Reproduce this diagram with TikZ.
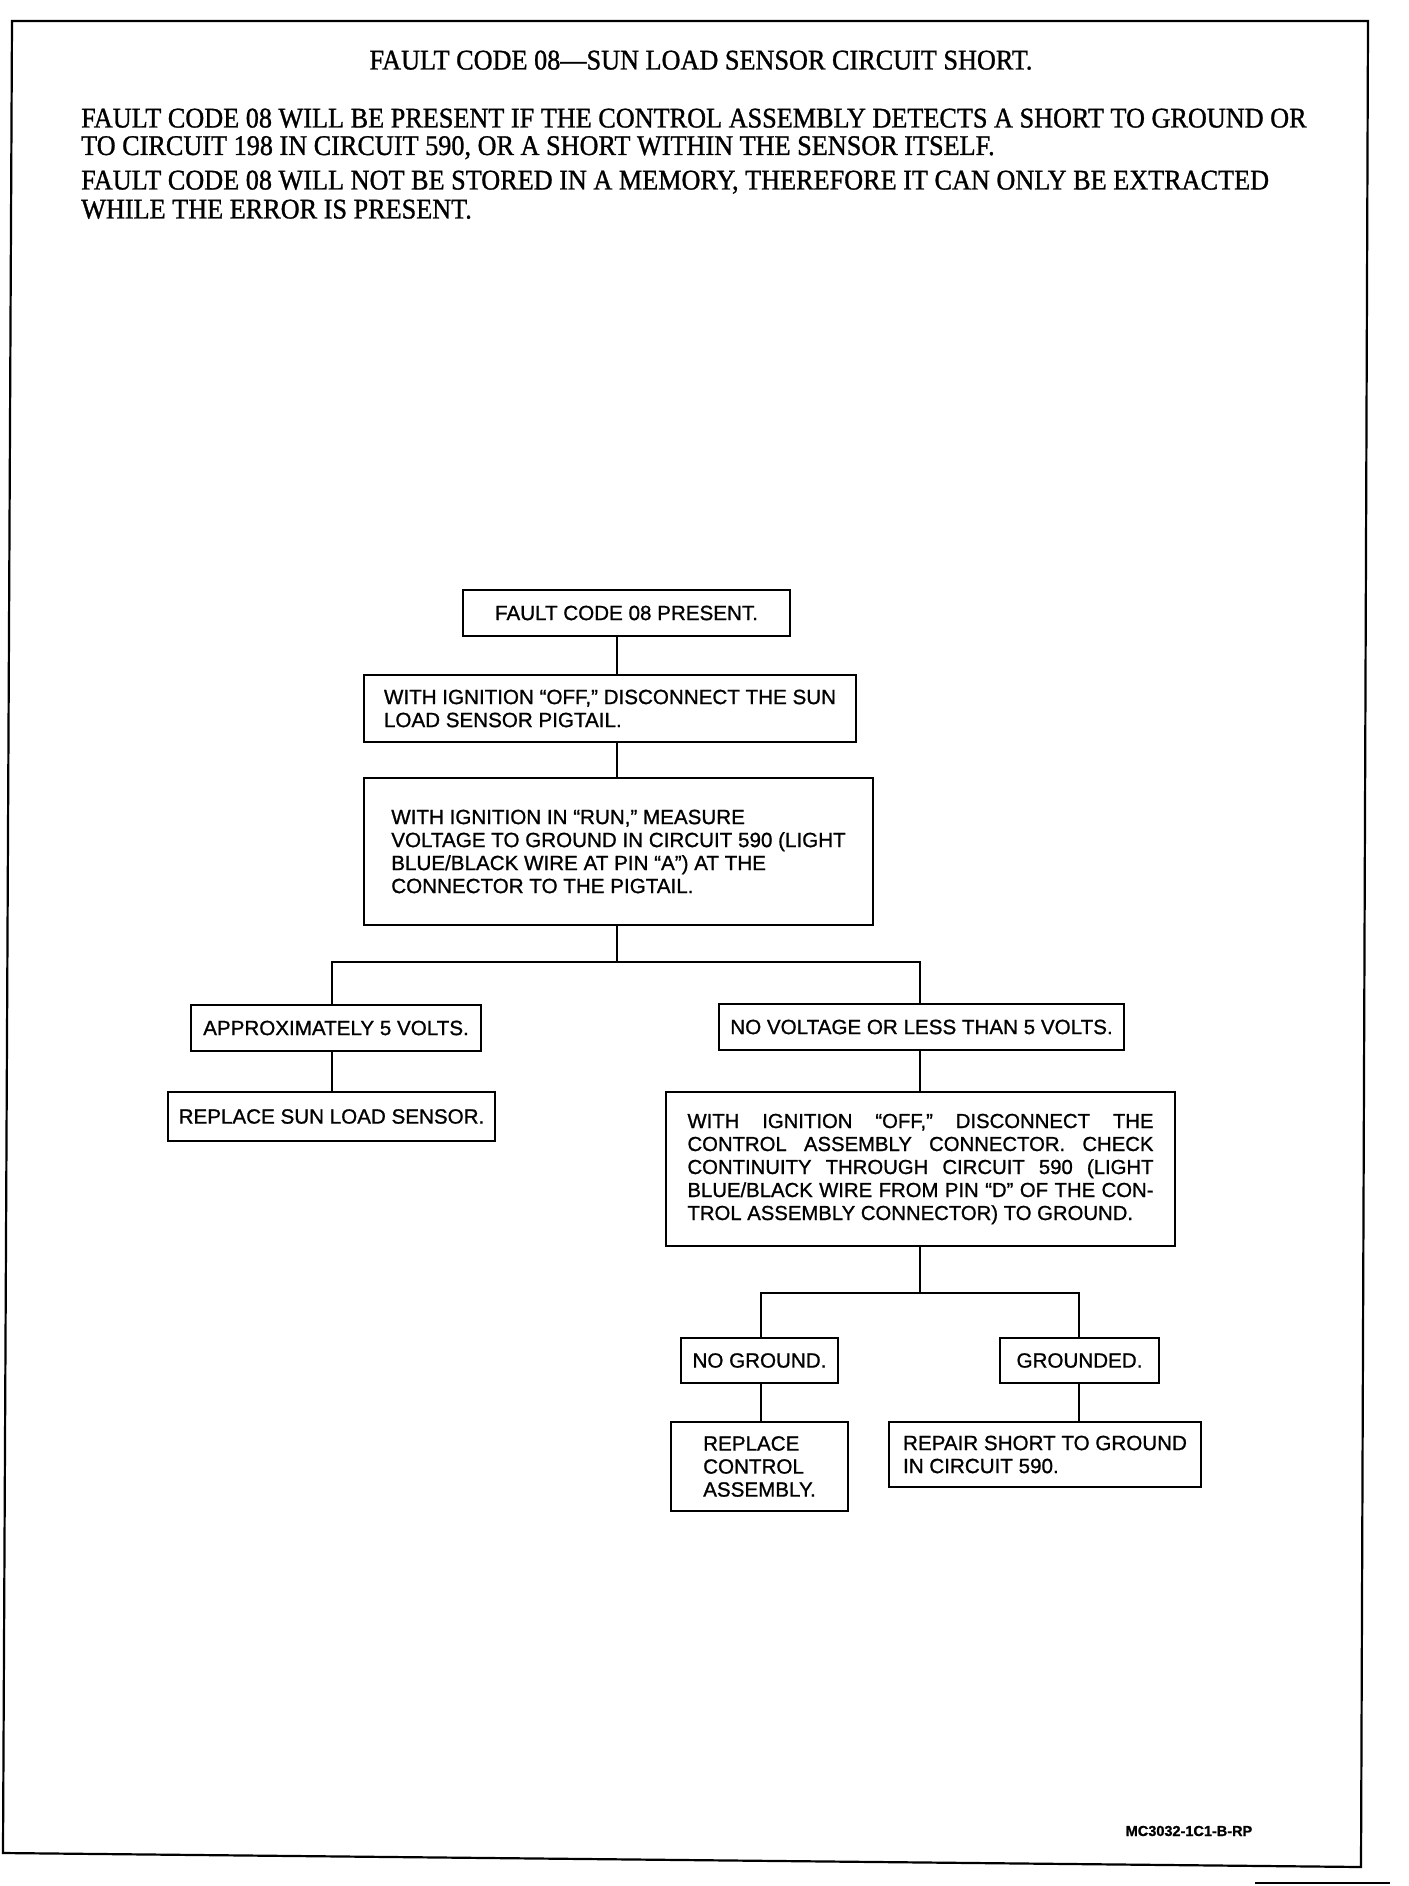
\documentclass[tikz,border=0pt]{standalone}
\usepackage{fontspec}
\setmainfont{Liberation Serif}[FakeStretch=0.92,FakeBold=1]
\newfontfamily\boxfont{Liberation Sans}[FakeBold=1]
\tikzset{
	stepbox/.style={draw,line width=1.6pt,font=\boxfont\fontsize{20.6}{23}\selectfont,align=left,inner sep=0pt},
	wire/.style={line width=1.5pt},
	hdr/.style={anchor=base west,inner sep=0pt,font=\fontsize{28.5}{30}\selectfont}
}
\newcommand{\jline}[1]{\makebox[466pt][s]{#1}}

\begin{document}
\begin{tikzpicture}[x=1pt,y=-1pt]
	\useasboundingbox (0,0) rectangle (1408,1886);
	% page frame
	\draw[line width=2.2pt] (12,21)--(1368,21)--(1361,1867)--(3,1853)--cycle;
	\draw[line width=1.6pt] (1255,1883)--(1390,1883);
	% heading
	\node[hdr,anchor=base] (title) at (701,69.5) {FAULT CODE 08—SUN LOAD SENSOR CIRCUIT SHORT.};
	\node[hdr] (pa) at (81,127.5) {FAULT CODE 08 WILL BE PRESENT IF THE CONTROL ASSEMBLY DETECTS A SHORT TO GROUND OR};
	\node[hdr] (pb) at (81,155) {TO CIRCUIT 198 IN CIRCUIT 590, OR A SHORT WITHIN THE SENSOR ITSELF.};
	\node[hdr] (pc) at (81,189.5) {FAULT CODE 08 WILL NOT BE STORED IN A MEMORY, THEREFORE IT CAN ONLY BE EXTRACTED};
	\node[hdr] (pd) at (81,218.5) {WHILE THE ERROR IS PRESENT.};
	% chart
	\node[stepbox,minimum width=327pt,minimum height=46pt] (fc) at (626.5,613) {FAULT CODE 08 PRESENT.};
	\node[stepbox,minimum width=492pt,minimum height=67pt] (off) at (610,708.5) {WITH IGNITION “OFF,” DISCONNECT THE SUN\\LOAD SENSOR PIGTAIL.};
	\node[stepbox,minimum width=509pt,minimum height=147pt] (run) at (618.5,851.5) {WITH IGNITION IN “RUN,” MEASURE\\VOLTAGE TO GROUND IN CIRCUIT 590 (LIGHT\\BLUE/BLACK WIRE AT PIN “A”) AT THE\\CONNECTOR TO THE PIGTAIL.};
	\node[stepbox,minimum width=290pt,minimum height=46pt] (five) at (336,1028) {APPROXIMATELY 5 VOLTS.};
	\node[stepbox,minimum width=405pt,minimum height=46pt] (novolt) at (921.5,1027) {NO VOLTAGE OR LESS THAN 5 VOLTS.};
	\node[stepbox,minimum width=327pt,minimum height=49pt] (repsensor) at (331.5,1116.5) {REPLACE SUN LOAD SENSOR.};
	\node[stepbox,font=\boxfont\fontsize{20.3}{23}\selectfont,minimum width=509pt,minimum height=154pt] (cont) at (920.5,1169) {\jline{WITH IGNITION “OFF,” DISCONNECT THE}\\\jline{CONTROL ASSEMBLY CONNECTOR. CHECK}\\\jline{CONTINUITY THROUGH CIRCUIT 590 (LIGHT}\\\jline{BLUE/BLACK WIRE FROM PIN “D” OF THE CON-}\\TROL ASSEMBLY CONNECTOR) TO GROUND.};
	\node[stepbox,minimum width=157pt,minimum height=45pt] (nognd) at (759.5,1360.5) {NO GROUND.};
	\node[stepbox,minimum width=159pt,minimum height=45pt] (gnd) at (1079.5,1360.5) {GROUNDED.};
	\node[stepbox,minimum width=177pt,minimum height=89pt] (repctrl) at (759.5,1466.5) {REPLACE\\CONTROL\\ASSEMBLY.};
	\node[stepbox,minimum width=312pt,minimum height=65pt] (repshort) at (1045,1454.5) {REPAIR SHORT TO GROUND\\IN CIRCUIT 590.};
	% connectors
	\coordinate (trunk) at (617,0);
	\coordinate (lcol) at (332,0);
	\coordinate (rcol) at (920,0);
	\coordinate (splitA) at (617,962);
	\coordinate (splitB) at (920,1293);
	\coordinate (ncol) at (761,0);
	\coordinate (gcol) at (1079,0);
	\draw[wire] (fc.south -| trunk) -- (off.north -| trunk);
	\draw[wire] (off.south -| trunk) -- (run.north -| trunk);
	\draw[wire] (run.south -| trunk) -- (splitA);
	\draw[wire] (five.north -| lcol) -- (lcol |- splitA) -- (rcol |- splitA) -- (novolt.north -| rcol);
	\draw[wire] (five.south -| lcol) -- (repsensor.north -| lcol);
	\draw[wire] (novolt.south -| rcol) -- (cont.north -| rcol);
	\draw[wire] (cont.south -| rcol) -- (splitB);
	\draw[wire] (nognd.north -| ncol) -- (ncol |- splitB) -- (gcol |- splitB) -- (gnd.north -| gcol);
	\draw[wire] (nognd.south -| ncol) -- (repctrl.north -| ncol);
	\draw[wire] (gnd.south -| gcol) -- (repshort.north -| gcol);
	% drawing number
	\node[inner sep=0pt,font=\boxfont\bfseries\fontsize{14.5}{16}\selectfont] (code) at (1189,1831) {MC3032-1C1-B-RP};
\end{tikzpicture}
\end{document}
